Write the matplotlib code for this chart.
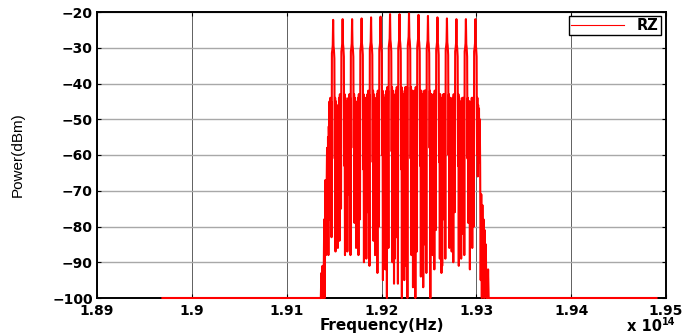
import matplotlib
matplotlib.use("Agg")
import matplotlib.pyplot as plt

# frequency in units of 1e14 Hz, power in dBm
floor_f = [1.8969, 1.9136]
floor_end_f = [1.9314, 1.9490]

left_edge_f = [1.91360, 1.91366, 1.91372, 1.91378, 1.91384, 1.91390, 1.91396,
               1.91402, 1.91408, 1.91414, 1.91420, 1.91426, 1.91432, 1.91436]
left_edge_p = [-100, -93, -100, -91, -100, -96, -78, -100, -67, -88, -74, -58, -84, -55]

chan_centers = [1.9149, 1.9159, 1.9169, 1.9179, 1.9189, 1.9199, 1.9209, 1.9219,
                1.9229, 1.9239, 1.9249, 1.9259, 1.9269, 1.9279, 1.9289, 1.9299]
offsets = [-0.0005, -0.00046, -0.00042, -0.00038, -0.00033, -0.00029, -0.00025, -0.00021,
           -0.00017, -0.00013, -0.00008, -0.00004, 0.0, 0.00004, 0.00008, 0.00013,
           0.00017, 0.00021, 0.00025, 0.00029, 0.00033, 0.00038, 0.00042, 0.00046]

chan_rows = [
    [-88, -52, -64, -45, -78, -44, -59, -45, -83, -31.5, -30.5, -29.3, -22.2, -29.5, -30.5, -33, -61, -44, -87, -45, -57, -46, -72, -53],
    [-86, -52, -60, -44, -84, -43, -57, -44, -75, -31, -30, -28.8, -22.0, -29, -30, -32.5, -63, -43, -88, -44, -58, -45, -80, -52],
    [-87, -53, -66, -44, -71, -43, -61, -44, -88, -31, -30, -28.8, -22.0, -29.2, -30.2, -32.5, -58, -43, -79, -44, -60, -45, -86, -52],
    [-85, -52, -62, -44, -88, -43, -56, -43, -78, -30.8, -29.8, -28.6, -21.8, -28.8, -29.8, -32, -64, -43, -90, -44, -56, -44, -74, -53],
    [-89, -52, -59, -43, -76, -42, -60, -43, -91, -30.5, -29.5, -28.3, -21.5, -28.6, -29.5, -32, -62, -42, -84, -43, -59, -44, -88, -52],
    [-86, -52, -65, -43, -93, -42, -58, -43, -80, -30.5, -29.5, -28.3, -21.3, -28.4, -29.4, -31.5, -60, -42, -95, -43, -57, -44, -79, -52],
    [-92, -51, -61, -42, -100, -41, -62, -42, -86, -29.8, -28.6, -27.4, -20.6, -27.8, -28.8, -31, -59, -41, -90, -42, -63, -43, -96, -51],
    [-89, -51, -66, -42, -83, -41, -57, -42, -96, -30, -28.8, -27.7, -20.6, -27.7, -28.8, -31, -64, -41, -100, -42, -58, -43, -85, -52],
    [-95, -51, -60, -41, -91, -41, -63, -41, -100, -29.5, -28.2, -26.9, -20.4, -27.1, -28.2, -30.5, -61, -41, -88, -42, -60, -42, -97, -51],
    [-90, -51, -64, -42, -100, -41, -59, -42, -87, -29.8, -28.5, -27.4, -20.8, -27.6, -28.6, -31, -63, -42, -94, -42, -57, -43, -90, -52],
    [-97, -52, -61, -42, -85, -42, -62, -42, -93, -30.2, -29, -27.9, -21.1, -28.1, -29, -31.5, -58, -42, -100, -43, -61, -43, -84, -52],
    [-88, -52, -65, -43, -92, -42, -58, -43, -81, -30.5, -29.5, -28.3, -21.5, -28.5, -29.5, -32, -62, -43, -89, -43, -59, -44, -93, -52],
    [-91, -52, -60, -43, -78, -43, -61, -43, -89, -30.5, -29.5, -28.3, -21.8, -28.5, -29.5, -32, -60, -43, -86, -44, -56, -44, -80, -53],
    [-87, -53, -63, -44, -90, -43, -57, -44, -76, -31, -30, -28.8, -22.0, -29, -30, -32.5, -63, -43, -91, -44, -60, -45, -87, -52],
    [-89, -52, -61, -44, -82, -44, -59, -44, -88, -31, -30, -28.8, -22.0, -29, -30, -32.5, -61, -44, -79, -45, -58, -45, -92, -53],
    [-85, -53, -64, -44, -86, -44, -60, -44, -80, -31, -30, -28.8, -22.0, -29.2, -30.2, -32.5, -60, -44, -66, -46, -58, -47, -62, -50],
]

right_edge_f = [1.93040, 1.93046, 1.93052, 1.93058, 1.93064, 1.93070, 1.93076, 1.93082,
                1.93088, 1.93094, 1.93100, 1.93106, 1.93112, 1.93118, 1.93124, 1.93130]
right_edge_p = [-62, -95, -71, -100, -74, -90, -78, -100, -81, -97, -85, -100, -93, -100, -92, -100]

xticks = [1.89, 1.90, 1.91, 1.92, 1.93, 1.94, 1.95]
xtick_labels = ['1.89', '1.9', '1.91', '1.92', '1.93', '1.94', '1.95']
yticks = [-100, -90, -80, -70, -60, -50, -40, -30, -20]

freq = list(floor_f) + left_edge_f
power = [-100, -100] + left_edge_p
for c, row in zip(chan_centers, chan_rows):
    freq += [c + o for o in offsets]
    power += row
freq += right_edge_f + floor_end_f
power += right_edge_p + [-100, -100]

fig = plt.figure(figsize=(6.9, 3.33), dpi=100)
ax = fig.add_axes([97 / 690, 1 - 298 / 333, 569 / 690, 286 / 333])

ax.plot(freq, power, color='#ff0000', lw=1.5, label='RZ', clip_on=False, zorder=3)
ax.set_xlim(1.89, 1.95)
ax.set_ylim(-100, -20)

ax.set_xticks(xticks)
ax.set_xticklabels(xtick_labels)
ax.set_yticks(yticks)
ax.tick_params(direction='in', length=3, top=True, right=True,
               labelsize=10, width=0.8)
ax.tick_params(axis='x', pad=4.5)
ax.tick_params(axis='y', pad=3)
for lab in ax.get_xticklabels() + ax.get_yticklabels():
    lab.set_fontweight('bold')
    lab.set_family('DejaVu Sans')

ax.xaxis.grid(True, color='#606060', lw=0.7)
ax.yaxis.grid(True, color='#a8a8a8', lw=1.0)
ax.set_axisbelow(True)
for s in ax.spines.values():
    s.set_linewidth(1.4)

ax.set_xlabel('Frequency(Hz)', fontsize=11, fontweight='bold')
ax.xaxis.set_label_coords(0.5, -(318 - 298) / 286)
ax.set_ylabel('Power(dBm)', fontsize=11, family=['Liberation Sans Narrow', 'Liberation Sans'])
ax.yaxis.set_label_coords(-(97 - 25) / 569, 0.5)

fig.text(627 / 690, 1 - 331 / 333, 'x 10', fontsize=10.5, fontweight='bold', va='baseline')
fig.text(662 / 690, 1 - 325 / 333, '14', fontsize=7, fontweight='bold', va='baseline')

leg = ax.legend(loc='upper right', bbox_to_anchor=(0.991, 0.987), fancybox=False,
                framealpha=1, edgecolor='black', handlelength=3.6, handletextpad=0.9,
                borderpad=0.15, borderaxespad=0, prop={'weight': 'bold', 'size': 10.5})
leg.get_frame().set_linewidth(1.0)
leg.get_lines()[0].set_linewidth(0.8)

fig.savefig('out.png', dpi=100)
